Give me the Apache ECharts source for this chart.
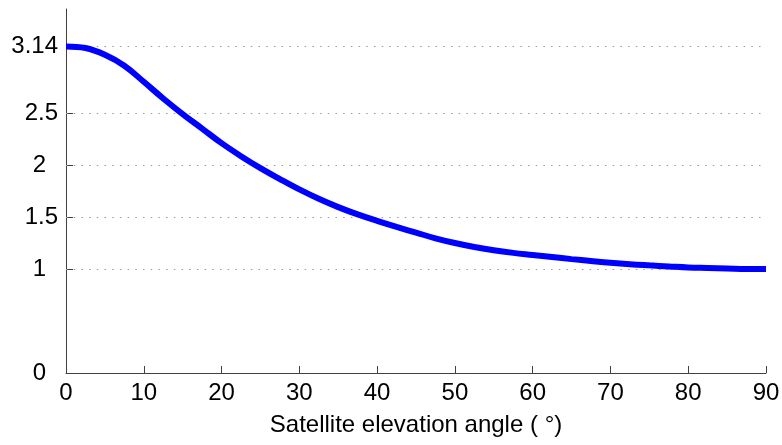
<!DOCTYPE html>
<html>
<head>
<meta charset="utf-8">
<script src="https://cdn.jsdelivr.net/npm/echarts@6/dist/echarts.min.js"></script>
<style>
  html, body { margin: 0; padding: 0; background: #fff; }
  #chart { width: 782px; height: 445px; }
</style>
</head>
<body>
<div id="chart"></div>
<script>
// Elevation angle (degrees) and the corresponding ratio
const elevation = [0, 2.5, 5, 7.5, 10, 12.5, 15, 17.5, 20, 22.5, 25, 27.5, 30, 32.5, 35, 37.5,
  40, 42.5, 45, 47.5, 50, 52.5, 55, 57.5, 60, 62.5, 65, 67.5, 70, 72.5, 75, 77.5,
  80, 82.5, 85, 87.5, 90];
const ratio = [3.14, 3.125, 3.06, 2.955, 2.80, 2.64, 2.49, 2.35, 2.21, 2.085, 1.97, 1.865, 1.765, 1.675, 1.595, 1.525,
  1.463, 1.405, 1.35, 1.295, 1.25, 1.212, 1.18, 1.155, 1.135, 1.115, 1.095, 1.077, 1.06, 1.046, 1.035, 1.025,
  1.015, 1.01, 1.005, 1.0, 1.0];

// Y tick positions (the top one marks pi)
const yTicks = [0, 1, 1.5, 2, 2.5, 3.14];
const gridTicks = [1, 1.5, 2, 2.5, 3.14];

const FONT = 'Liberation Sans, Arial, Helvetica, sans-serif';
const AXIS_COLOR = '#404040';

const chart = echarts.init(document.getElementById('chart'), null, { renderer: 'canvas' });

chart.setOption({
  animation: false,
  backgroundColor: '#ffffff',
  grid: { left: 66, right: 16, top: 9, bottom: 72, containLabel: false, outerBoundsMode: 'none' },
  xAxis: {
    type: 'value',
    min: 0, max: 90, interval: 10,
    name: 'Satellite elevation angle ( °)',
    nameLocation: 'middle',
    nameGap: 40,
    nameTextStyle: { fontFamily: FONT, fontSize: 24, color: '#000' },
    axisLine: { show: true, lineStyle: { color: AXIS_COLOR, width: 1 } },
    axisTick: { show: true, inside: true, length: 7, lineStyle: { color: AXIS_COLOR } },
    axisLabel: { fontFamily: FONT, fontSize: 24, color: '#000', margin: 8 },
    splitLine: { show: false }
  },
  yAxis: {
    type: 'value',
    min: 0, max: 3.5,
    axisLine: { show: true, lineStyle: { color: AXIS_COLOR, width: 1 } },
    axisTick: { show: true, inside: true, length: 7, customValues: yTicks, lineStyle: { color: AXIS_COLOR } },
    axisLabel: {
      customValues: yTicks,
      margin: 8,
      formatter: v => Number.isInteger(v) ? '{i|' + v + '}' : '{d|' + v + '}',
      rich: {
        i: { fontFamily: FONT, fontSize: 24, color: '#000', padding: [0, 12, 0, 0] },
        d: { fontFamily: FONT, fontSize: 24, color: '#000' }
      }
    },
    splitLine: { show: false }
  },
  series: [{
    type: 'line',
    data: elevation.map((x, i) => [x, ratio[i]]),
    smooth: 0.4,
    showSymbol: false,
    lineStyle: { color: '#0000ff', width: 6 },
    z: 5,
    markLine: {
      silent: true,
      symbol: ['none', 'none'],
      label: { show: false },
      lineStyle: { color: '#9a9a9a', width: 1.2, type: [1.5, 6.2] },
      data: gridTicks.map(v => ({ yAxis: v }))
    }
  }]
});
</script>
</body>
</html>
